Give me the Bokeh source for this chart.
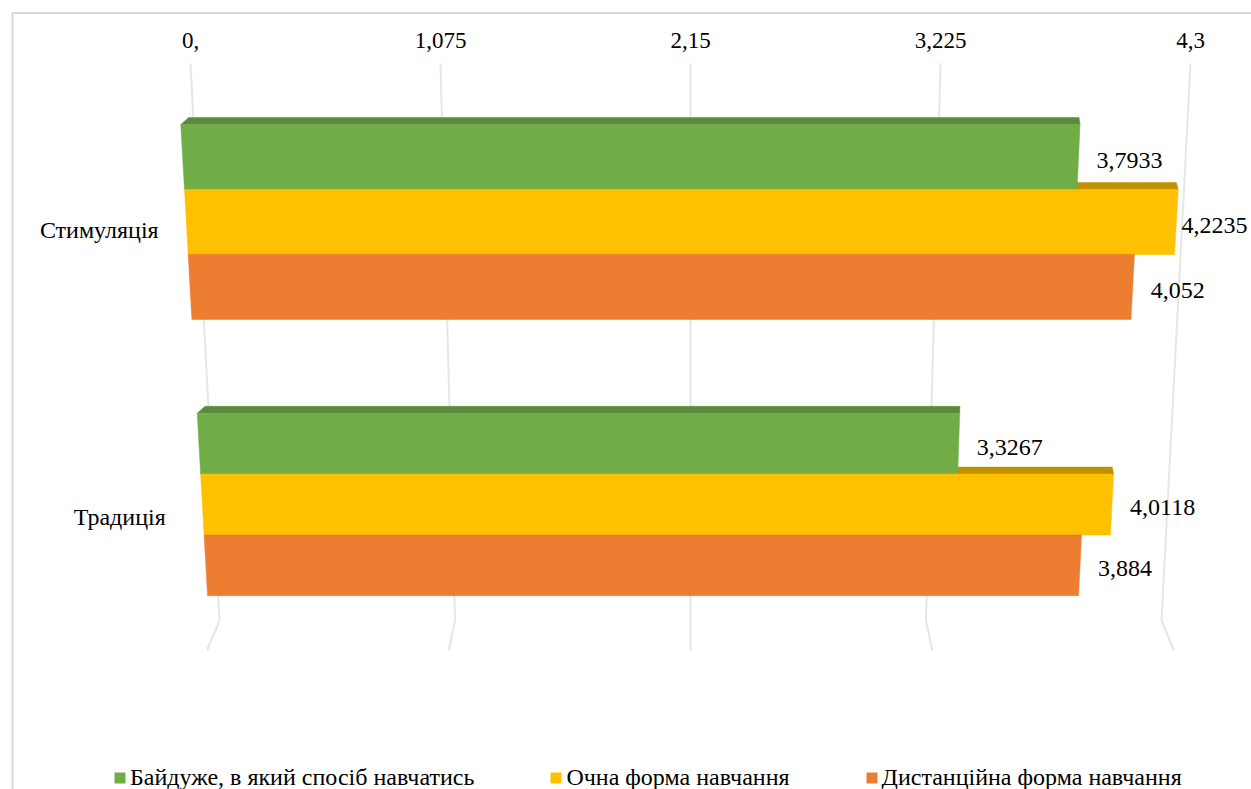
from bokeh.plotting import figure
from bokeh.models import Range1d, Legend, LegendItem, ColumnDataSource
from bokeh.core.properties import value
from bokeh.embed import file_html
from bokeh.resources import INLINE

# ---- data -------------------------------------------------------------
categories = ["Стимуляція", "Традиція"]
series_names = [
    "Байдуже, в який спосіб навчатись",
    "Очна форма навчання",
    "Дистанційна форма навчання",
]
indifferent = [3.7933, 3.3267]
in_person = [4.2235, 4.0118]
distance = [4.052, 3.884]
tick_values = [0, 1.075, 2.15, 3.225, 4.3]
tick_labels = ["0,", "1,075", "2,15", "3,225", "4,3"]

series_values = [indifferent, in_person, distance]
front_colors = ["#70ad47", "#ffc000", "#ed7d31"]
top_colors = ["#5a8a3a", "#bf9000", "#b65f24"]

FONT = value("Liberation Serif")

# ---- canvas geometry ---------------------------------------------------
W, H = 1251, 789
X0_PX, X_SCALE = 190.0, 232.56   # pixel of value 0 and pixels per unit on the back wall
Y0_PX, Y_SCALE = 221.5, 282.5    # pixel of first category centre, pixels per category step


def px_x(px):
    return (px - X0_PX) / X_SCALE


def px_y(py):
    return (py - Y0_PX) / Y_SCALE


# ---- perspective helpers ----------------------------------------------
def front_x(v, y):
    """Front face of a bar: it leans right and shrinks a little further down."""
    return -0.018 + 0.069 * y + v * (1.008 - 0.033 * y)


def back_x(x):
    """Receding top edge of a bar."""
    return 3.39 + (x - 3.39) * 0.99


def slot(y):
    """Bar thickness, smaller for rows further from the viewer's eye."""
    return 0.230 * (1 - 0.065 * y)


TOP_DEPTH = 0.025
GRID_CENTRE = 2.15
LABEL_GAP = 18 / X_SCALE
LABEL_MAX_X = px_x(1181)   # value labels may not start further right than this

p = figure(
    width=W, height=H,
    x_range=Range1d(px_x(0), px_x(W)),
    y_range=Range1d(px_y(H), px_y(0)),   # inverted: categories run downward
    x_axis_type=None, y_axis_type=None,
    output_backend="svg", toolbar_location=None,
    min_border=0, outline_line_color=None,
    background_fill_color="white", border_fill_color="white",
)

# chart frame (left and top edges)
p.line(x=[px_x(12), px_x(12), px_x(W + 5)],
       y=[px_y(H + 5), px_y(12.5), px_y(12.5)],
       line_color="#d9d9d9", line_width=2)

# back-wall gridlines bending onto the floor
grid_xs = [[t, GRID_CENTRE + (t - GRID_CENTRE) * 0.942, GRID_CENTRE + (t - GRID_CENTRE) * 0.967]
           for t in tick_values]
grid_ys = [[px_y(63), px_y(620), px_y(650)] for _ in tick_values]
p.multi_line(xs=grid_xs, ys=grid_ys, line_color="#e6e6e6", line_width=2)

# tick labels along the top
p.text(x=tick_values, y=[px_y(40)] * len(tick_values), text=tick_labels,
       text_align="center", text_baseline="middle",
       text_font=FONT, text_font_size="23px", text_color="#000000")

# ---- bars ----------------------------------------------------------------
top_sources, front_sources, label_rows = [], [], []
for s_i, vals in enumerate(series_values):
    top = dict(xs=[], ys=[])
    front = dict(xs=[], ys=[])
    for c_i, v in enumerate(vals):
        h = slot(c_i)
        yc = c_i + (s_i - 1) * h
        yt, yb = yc - h / 2, yc + h / 2
        fl_t, fr_t = front_x(0, yt), front_x(v, yt)
        fl_b, fr_b = front_x(0, yb), front_x(v, yb)
        front["xs"].append([fl_t, fr_t, fr_b, fl_b])
        front["ys"].append([yt, yt, yb, yb])
        top["xs"].append([fl_t, fr_t, back_x(fr_t), back_x(fl_t)])
        top["ys"].append([yt, yt, yt - TOP_DEPTH, yt - TOP_DEPTH])
        lx = min(front_x(v, yc) + LABEL_GAP, LABEL_MAX_X)
        label_rows.append((lx, yc + 0.012, f"{v:g}".replace(".", ",")))
    top_sources.append(ColumnDataSource(top))
    front_sources.append(ColumnDataSource(front))

for src, col in zip(top_sources, top_colors):
    p.patches("xs", "ys", source=src, fill_color=col, line_color=col, line_width=0.5)

front_renderers = []
for src, col in zip(front_sources, front_colors):
    r = p.patches("xs", "ys", source=src, fill_color=col, line_color=col, line_width=0.5)
    front_renderers.append(r)

# value labels at the bar ends
p.text(x=[r[0] for r in label_rows], y=[r[1] for r in label_rows], text=[r[2] for r in label_rows],
       text_align="left", text_baseline="middle",
       text_font=FONT, text_font_size="24px", text_color="#000000")

# category labels
cat_y = [0.03, 1.045]
cat_x = [-0.138 + 0.03 * y for y in cat_y]
p.text(x=cat_x, y=cat_y, text=categories,
       text_align="right", text_baseline="middle",
       text_font=FONT, text_font_size="24px", text_color="#000000")

# ---- legend --------------------------------------------------------------
legend = Legend(
    items=[LegendItem(label=n, renderers=[r]) for n, r in zip(series_names, front_renderers)],
    orientation="horizontal", location=(113, -2),
    glyph_width=13, glyph_height=13, label_standoff=4, spacing=75,
    padding=0, margin=0, border_line_alpha=0, background_fill_alpha=0,
    label_text_font="Liberation Serif", label_text_font_size="24px",
    label_text_color="#000000",
)
p.add_layout(legend)

open("out.html", "w").write(file_html(p, INLINE))
